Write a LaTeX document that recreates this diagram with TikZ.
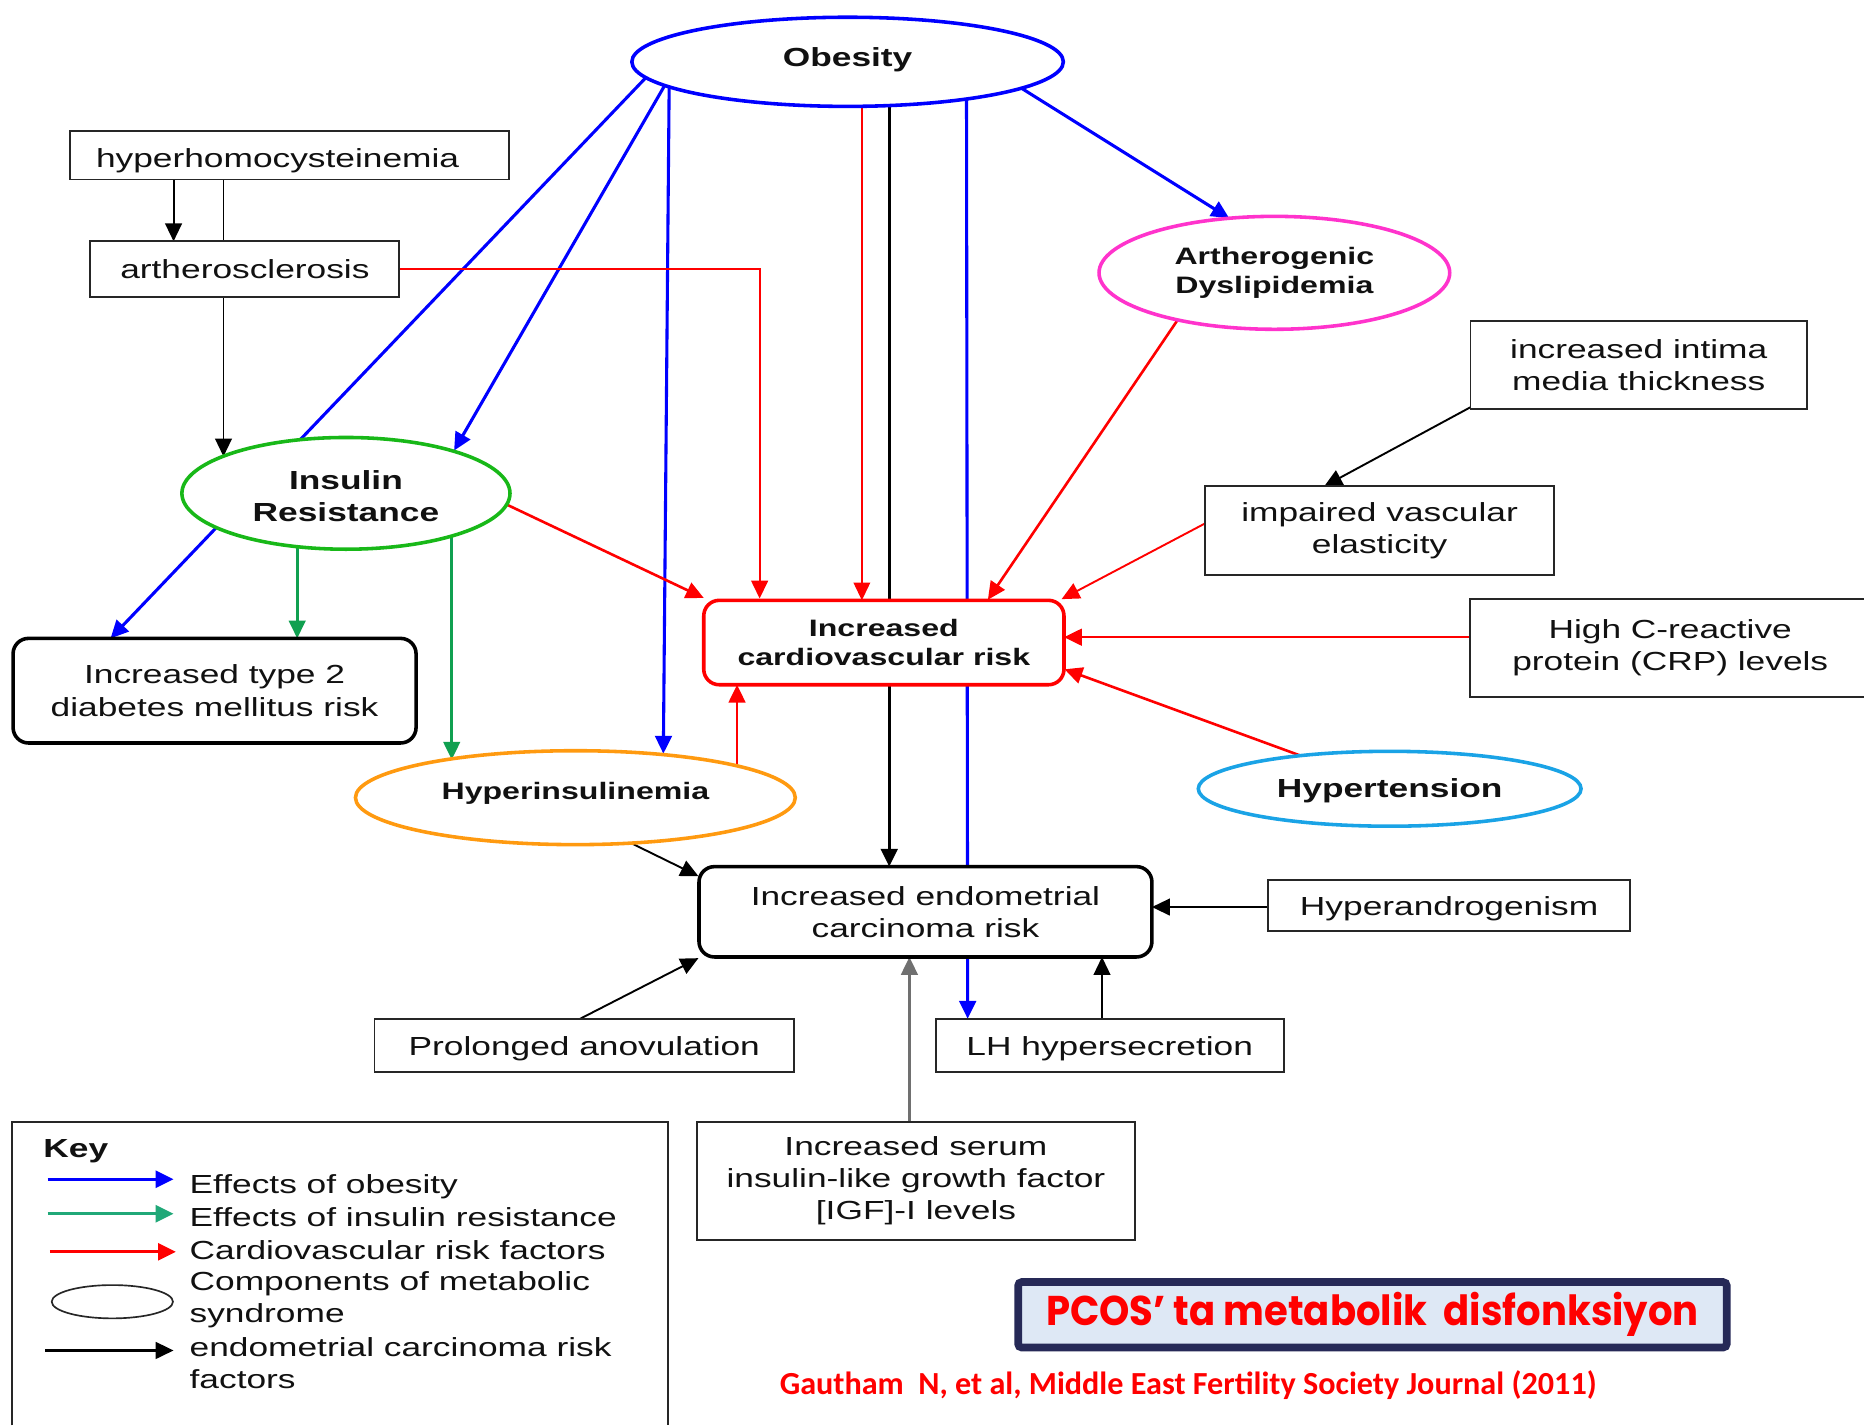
\documentclass[tikz,border=0pt]{standalone}
\usepackage{fontspec}
\usepackage{graphicx}
\setmainfont{Liberation Sans}[FakeStretch=1.35]
\newfontfamily\titlefont{Poppins}
\newfontfamily\citefont{Carlito}
\usetikzlibrary{shapes.geometric,arrows.meta,calc,backgrounds}
\pgfdeclarelayer{bottom}
\pgfsetlayers{bottom,background,main}
\definecolor{cblue}{HTML}{0000FF}
\definecolor{cred}{HTML}{FF0000}
\definecolor{cgreen}{HTML}{18B818}
\definecolor{cgreenarr}{HTML}{10A050}
\definecolor{ckeygreen}{HTML}{20A878}
\definecolor{cmag}{HTML}{FF33CC}
\definecolor{corange}{HTML}{FF9A10}
\definecolor{ccyan}{HTML}{1AA3E6}
\definecolor{cgray}{HTML}{707070}
\definecolor{ctext}{HTML}{111111}
\definecolor{navy}{HTML}{262957}
\definecolor{paleblue}{HTML}{DEE8F5}
\newcommand{\lowr}[2]{\raisebox{-#1}[\height][\depth]{#2}}
\tikzset{
  txt/.style={font=\fontsize{22}{27}\selectfont, text=ctext, align=center},
  bld/.style={font=\fontsize{22}{27}\selectfont\bfseries, text=ctext, align=center},
  bldsm/.style={font=\fontsize{20}{25}\selectfont\bfseries, text=ctext, align=center},
  ell/.style={ellipse, fill=white, line width=3pt, inner sep=0pt},
  sqbox/.style={rectangle, draw=black!85, fill=white, line width=1.6pt, inner sep=0pt, txt},
  rbx/.style={rectangle, rounded corners=13pt, fill=white, line width=3pt, inner sep=0pt},
  conn/.style={line width=2.2pt, -{Triangle[length=15pt,width=14pt]}},
  bconn/.style={conn, line width=2.6pt, cblue},
}
\begin{document}
\begin{tikzpicture}[x=1pt,y=-1pt]
\begin{pgfonlayer}{bottom}
\fill[white] (0,0) rectangle (1568,1199);
\end{pgfonlayer}
\useasboundingbox (0,0) rectangle (1568,1199);

% ---------- nodes ----------
\node[ell, draw=cblue, minimum width=363pt, minimum height=75pt, bld] (ob) at (713,52) {\raisebox{8pt}{Obesity}};
\node[sqbox, minimum width=369pt, minimum height=41pt] (hh) at (243.5,130.5) {\lowr{5pt}{hyperhomocysteinemia}\hspace{20pt}};
\node[sqbox, minimum width=260pt, minimum height=47pt] (ath) at (206,226.5) {artherosclerosis};
\node[ell, draw=cgreen, minimum width=276pt, minimum height=94pt, bld] (ir) at (291,415) {\lowr{2pt}{Insulin}\\\lowr{2pt}{Resistance}};
\node[rbx, draw=black, minimum width=339pt, minimum height=88pt, txt] (dm) at (180.5,581) {Increased type 2\\diabetes mellitus risk};
\node[rbx, draw=cred, minimum width=303pt, minimum height=71pt, bldsm] (cvd) at (743.5,540.5) {Increased\\cardiovascular risk};
\node[ell, draw=cmag, minimum width=295pt, minimum height=95pt, bldsm] (ad) at (1072,229.5) {Artherogenic\\Dyslipidemia};
\node[sqbox, minimum width=283pt, minimum height=74pt] (imt) at (1378.5,307) {increased intima\\media thickness};
\node[sqbox, minimum width=293pt, minimum height=75pt] (ive) at (1160.5,446.5) {impaired vascular\\elasticity};
\node[txt, fill=white, minimum width=336pt, minimum height=82pt, inner sep=0pt] (crp) at (1405,545) {High C-reactive\\protein (CRP) levels};
\draw[line width=1.6pt, black!85] ($(crp.north west)+(333,0)$) -- (crp.north west) -- (crp.south west) -- ++(333,0);
\node[ell, draw=ccyan, minimum width=322pt, minimum height=63pt, bld] (ht) at (1169,663.5) {\lowr{2pt}{Hypertension}};
\node[ell, draw=corange, minimum width=370pt, minimum height=79pt, bldsm] (hi) at (484,671) {\raisebox{12pt}{Hyperinsulinemia}};
\node[rbx, draw=black, minimum width=381pt, minimum height=76pt, txt] (ecr) at (778.5,767) {Increased endometrial\\carcinoma risk};
\node[sqbox, minimum width=304pt, minimum height=43pt] (ha) at (1219,761.5) {\lowr{3pt}{Hyperandrogenism}};
\node[sqbox, minimum width=353pt, minimum height=45pt] (pa) at (491.5,879.5) {\lowr{3pt}{Prolonged anovulation}};
\node[sqbox, minimum width=293pt, minimum height=45pt] (lh) at (933.5,879.5) {\lowr{3pt}{LH hypersecretion}};
\node[sqbox, minimum width=369pt, minimum height=99pt] (igf) at (770.5,993.5) {Increased serum\\insulin-like growth factor\\{}[IGF]-I levels};

% ---------- connectors ----------
\begin{scope}[on background layer]
\draw[bconn] ($(ob)+(-157,0)$) -- ($(dm)+(-87.5,-44)$);
\draw[bconn] ($(ob)+(-147,8)$) -- ($(ir)+(91,-36)$);
\draw[bconn] ($(ob)+(-150,8)$) -- ($(hi)+(74,-37)$);
\draw[conn, cred, line width=1.5pt] ($(ob)+(12,10)$) -- ($(cvd)+(-18.5,-35.5)$);
\draw[conn, black, line width=2.6pt] ($(ob)+(35,10)$) -- ($(ecr)+(-30.5,-38)$);
\draw[bconn] ($(ob)+(100,10)$) -- ($(lh)+(-119.5,-22.5)$);
\draw[bconn] ($(ob)+(123.5,8)$) -- ($(ad)+(-38,-46)$);
\draw[conn, black, line width=1.6pt] ($(hh)+(-97.5,0)$) -- ($(ath)+(-60,-23.5)$);
\draw[conn, black, line width=1.6pt] ($(hh)+(-55.5,0)$) -- ($(ir)+(-103,-31)$);
\draw[conn, cred, line width=1.8pt] (ath.east) -| ($(cvd.north)+(-104.5,0)$);
\draw[conn, cred] ($(ir)+(109,-3)$) -- ($(cvd)+(-151.5,-37.5)$);
\draw[conn, cgreenarr] ($(ir)+(-41,20)$) -- ($(dm)+(69.5,-44)$);
\draw[conn, cgreenarr] ($(ir)+(89,20)$) -- ($(hi)+(-104,-32)$);
\draw[conn, cred] ($(hi)+(136,0)$) -- ($(cvd)+(-123.5,35.5)$);
\draw[conn, black, line width=1.6pt] ($(hi)+(26,28)$) -- ($(ecr)+(-191,-30)$);
\draw[conn, cred] ($(ad)+(-68.4,20.5)$) -- ($(cvd)+(87.5,-36)$);
\draw[conn, black, line width=1.6pt] ($(imt)+(-128.5,28.5)$) -- ($(ive)+(-46.5,-37.5)$);
\draw[conn, cred, line width=1.6pt] ($(ive)+(-130.5,-14.8)$) -- ($(cvd)+(149.5,-36.5)$);
\draw[conn, cred] ($(crp)+(-150,-9)$) -- ($(cvd)+(151.5,-4.5)$);
\draw[conn, cred] ($(ht)+(-59,-22)$) -- ($(cvd)+(152,22.5)$);
\draw[conn, black, line width=1.6pt] ($(ha)+(-100,1.5)$) -- ($(ecr)+(190.5,-4)$);
\draw[conn, black, line width=1.6pt] ($(pa)+(-28.9,-9.5)$) -- ($(ecr)+(-191,39)$);
\draw[conn, black, line width=1.6pt] ($(lh)+(-6.5,0)$) -- ($(ecr)+(148.5,38)$);
\draw[conn, cgray, line width=2pt] ($(igf)+(-5.5,0)$) -- ($(ecr)+(-13.5,38)$);
\end{scope}

% ---------- key ----------
\draw[line width=1.6pt, black!85] (10,1199) -- (10,944) -- (562,944) -- (562,1199);
\node[bld, anchor=west] (keyt) at (33,968) {Key};
\coordinate (k1a) at (40,992);   \coordinate (k1b) at (146,992);
\coordinate (k2a) at (40,1021);  \coordinate (k2b) at (146,1021);
\coordinate (k3a) at (42,1053);  \coordinate (k3b) at (148,1053);
\coordinate (k5a) at (38,1136);  \coordinate (k5b) at (146,1136);
\draw[conn, cblue, line width=2.8pt] (k1a) -- (k1b);
\draw[conn, ckeygreen, line width=2.8pt] (k2a) -- (k2b);
\draw[conn, cred, line width=2.8pt] (k3a) -- (k3b);
\draw[conn, black, line width=2pt] (k5a) -- (k5b);
\node[ellipse, draw=black!85, line width=1.4pt, minimum width=102pt, minimum height=28pt, inner sep=0pt] (kell) at (94.5,1095) {};
\node[txt, anchor=west, align=left] (kt1) at (156,998) {Effects of obesity};
\node[txt, anchor=west, align=left] (kt2) at (156,1024) {Effects of insulin resistance};
\node[txt, anchor=west, align=left] (kt3) at (156,1052) {Cardiovascular risk factors};
\node[txt, anchor=west, align=left] (kt4) at (156,1093) {Components of metabolic\\syndrome};
\node[txt, anchor=west, align=left] (kt5) at (156,1147) {endometrial carcinoma risk\\factors};

% ---------- title and citation ----------
\node[draw=navy, fill=paleblue, line width=6.5pt, rounded corners=3pt, minimum width=596pt, minimum height=55pt, inner sep=0pt] (title) at (1154.5,1106)
  {\resizebox{549pt}{28pt}{\titlefont\bfseries\color{cred}PCOS’ ta metabolik\ \ disfonksiyon}\hspace{14pt}};
\node[inner sep=0pt] (cite) at (999.5,1165)
  {\resizebox{687pt}{!}{\citefont\bfseries\color{cred}Gautham\ \ N, et al, Middle East Fertility Society Journal (2011)}};
\end{tikzpicture}
\end{document}
